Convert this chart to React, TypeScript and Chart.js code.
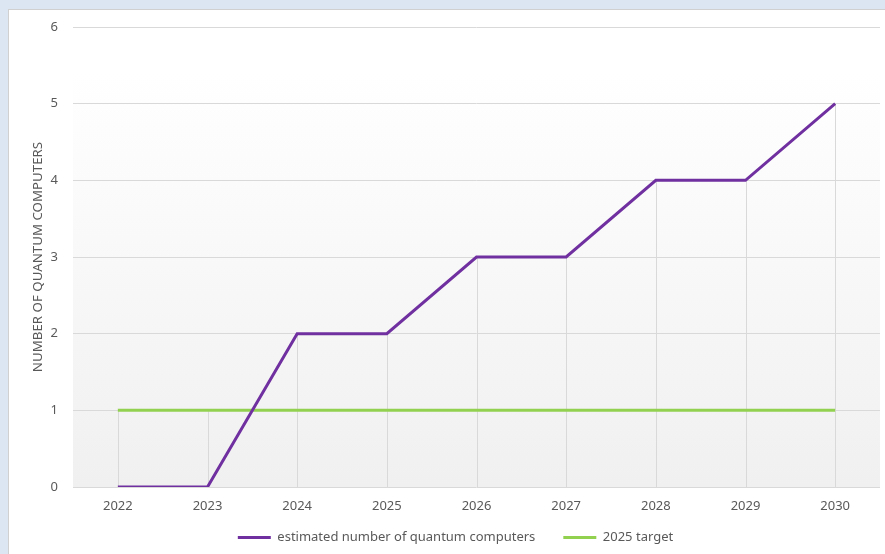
import React, { useEffect, useRef } from "react";
import { Chart, registerables } from "chart.js";

Chart.register(...registerables);

const years = ["2022", "2023", "2024", "2025", "2026", "2027", "2028", "2029", "2030"];
const estimated = [0, 0, 2, 2, 3, 3, 4, 4, 5];
const target = [1, 1, 1, 1, 1, 1, 1, 1, 1];
const seriesNames = ["estimated number of quantum computers", "2025 target"];
const yTitle = "NUMBER OF QUANTUM COMPUTERS";

const TEXT = "#595959";
const GRID = "#d9d9d9";
const FONT = "'Noto Sans', 'Liberation Sans', sans-serif";

const bgPlugin = {
  id: "plotBg",
  beforeDraw(chart: any) {
    const { ctx, chartArea } = chart;
    if (!chartArea) return;
    const g = ctx.createLinearGradient(0, chartArea.top, 0, chartArea.bottom);
    g.addColorStop(0, "#ffffff");
    g.addColorStop(0.1, "#ffffff");
    g.addColorStop(1, "#f0f0f0");
    ctx.save();
    ctx.fillStyle = g;
    ctx.fillRect(chartArea.left, chartArea.top, chartArea.right - chartArea.left, chartArea.bottom - chartArea.top);
    ctx.restore();
  },
};

const dropLines = {
  id: "dropLines",
  beforeDatasetsDraw(chart: any) {
    const { ctx, chartArea } = chart;
    const metas = chart.data.datasets.map((_: any, i: number) => chart.getDatasetMeta(i));
    const n = chart.data.labels.length;
    ctx.save();
    ctx.strokeStyle = GRID;
    ctx.lineWidth = 1;
    for (let i = 0; i < n; i++) {
      let minY = Infinity;
      let x = 0;
      metas.forEach((m: any) => {
        const p = m.data[i];
        if (p && p.y < minY) {
          minY = p.y;
          x = p.x;
        }
      });
      const px = Math.round(x) + 0.5;
      ctx.beginPath();
      ctx.moveTo(px, minY);
      ctx.lineTo(px, chartArea.bottom);
      ctx.stroke();
    }
    ctx.restore();
  },
};

// legend uses a wide horizontal gap; extend its box upward so its items sit closer to the axis
const legendShift = {
  id: "legendShift",
  afterLayout(chart: any) {
    const lg = chart.legend;
    if (lg) {
      lg.top -= 20;
      lg.height += 20;
      lg.left += 11;
      lg.right += 11;
    }
  },
};

export default function App() {
  const ref = useRef<HTMLCanvasElement | null>(null);
  useEffect(() => {
    if (!ref.current) return;
    const chart = new Chart(ref.current, {
      type: "line",
      data: {
        labels: years,
        datasets: [
          {
            label: seriesNames[0],
            data: estimated,
            borderColor: "#7030a0",
            backgroundColor: "#7030a0",
            borderWidth: 3,
            pointRadius: 0,
            tension: 0,
          },
          {
            label: seriesNames[1],
            data: target,
            borderColor: "#92d050",
            backgroundColor: "#92d050",
            borderWidth: 3,
            pointRadius: 0,
            tension: 0,
          },
        ],
      },
      options: {
        animation: false,
        responsive: false,
        layout: { padding: { top: 17, right: 5, left: 0, bottom: 0 } },
        plugins: {
          tooltip: { enabled: false },
          legend: {
            position: "bottom",
            maxHeight: 31,
            labels: {
              usePointStyle: true,
              pointStyle: "line",
              pointStyleWidth: 33,
              boxHeight: 3,
              color: TEXT,
              font: { family: FONT, size: 13 },
              padding: 28,
            },
          },
        },
        scales: {
          x: {
            type: "category",
            offset: true,
            grid: { display: false, drawTicks: false },
            border: { display: false },
            ticks: { color: TEXT, font: { family: FONT, size: 13 }, padding: 11, maxRotation: 0 },
            afterFit(scale: any) {
              scale.height = 36;
            },
          },
          y: {
            min: 0,
            max: 6,
            ticks: { stepSize: 1, color: TEXT, font: { family: FONT, size: 13 }, padding: 15 },
            grid: { color: GRID, drawTicks: false },
            border: { display: false },
            title: {
              display: true,
              text: yTitle,
              color: TEXT,
              font: { family: FONT, size: 13.3 },
              padding: { top: 21, bottom: 0 },
            },
            afterFit(scale: any) {
              scale.width = 64;
              scale.paddingTop = 0;
              scale.paddingBottom = 0;
            },
          },
        },
      },
      plugins: [bgPlugin, dropLines, legendShift],
    } as any);
    return () => chart.destroy();
  }, []);

  return (
    <div style={{ position: "absolute", left: 0, top: 0, width: 885, height: 554, background: "#dce6f2", overflow: "hidden" }}>
      <div
        style={{
          position: "absolute",
          left: 8,
          top: 9,
          width: 877,
          height: 545,
          background: "#ffffff",
          borderLeft: "1px solid #d0d0d0",
          borderTop: "1px solid #d0d0d0",
        }}
      >
        <canvas ref={ref} width={876} height={544} style={{ display: "block", width: 876, height: 544 }} />
      </div>
    </div>
  );
}
